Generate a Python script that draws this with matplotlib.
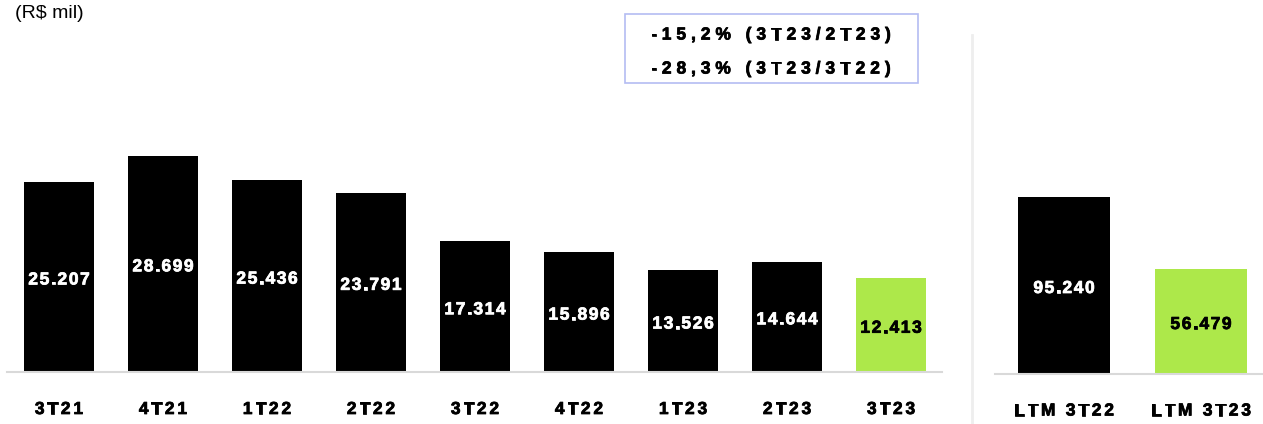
import matplotlib.pyplot as plt
import matplotlib.patheffects as pe
from matplotlib.font_manager import FontProperties
from matplotlib.transforms import offset_copy

# dados trimestrais (R$ mil)
trimestres = ['3T21', '4T21', '1T22', '2T22', '3T22', '4T22', '1T23', '2T23', '3T23']
valores = [25207, 28699, 25436, 23791, 17314, 15896, 13526, 14644, 12413]

# acumulado 12 meses
ltm_labels = ['LTM 3T22', 'LTM 3T23']
ltm_valores = [95240, 56479]

variacoes = ['-15,2% (3T23/2T23)', '-28,3% (3T23/3T22)']

PRETO = '#000000'
VERDE = '#ADE84A'
CINZA = '#d9d9d9'

W, H = 1263, 424
fig = plt.figure(figsize=(W / 100, H / 100), dpi=100)
plt.rcParams['font.family'] = ['Liberation Sans', 'DejaVu Sans']
renderer = fig.canvas.get_renderer()


def px_axes(x0, y0, x1, y1):
    # coordenadas em pixels (origem no topo)
    return fig.add_axes([x0 / W, 1 - y1 / H, (x1 - x0) / W, (y1 - y0) / H])


def fmt(v):
    return f'{v:,}'.replace(',', '.')


def texto_espacado(x, y, t, trans, track, dy=0, size=12.5, color='black', **kw):
    """Texto centrado em (x, y) com espaçamento extra entre letras (px)."""
    fp = FontProperties(family='Liberation Sans', weight='bold', size=size)
    larg = [renderer.get_text_width_height_descent(c, fp, ismath=False)[0] for c in t]
    total = sum(larg) + track * (len(t) - 1)
    pos = -total / 2
    for c, w in zip(t, larg):
        tr = offset_copy(trans, fig=fig, x=pos, y=dy, units='dots')
        fig.text(x, y, c, transform=tr, fontproperties=fp, ha='left',
                 va='center', color=color,
                 path_effects=[pe.withStroke(linewidth=0.55, foreground=color)], **kw)
        pos += w + track


def barras(ax, labels, vals, largura, y_rot):
    xs = list(range(len(vals)))
    cores = [PRETO] * (len(vals) - 1) + [VERDE]
    ax.bar(xs, vals, width=largura, color=cores, zorder=2)
    for x, v, c in zip(xs, vals, cores):
        texto_espacado(x, v / 2, fmt(v), ax.transData, 1.6, dy=-3,
                       color='white' if c == PRETO else 'black', zorder=5)
    # rótulos do eixo x
    trans_x = ax.get_xaxis_transform()
    for x, l in zip(xs, labels):
        texto_espacado(x, 0, l, trans_x, 2.8, dy=-y_rot)
    ax.set_xticks([])
    ax.set_yticks([])
    for s in ['top', 'right', 'left']:
        ax.spines[s].set_visible(False)
    ax.spines['bottom'].set_color(CINZA)
    ax.spines['bottom'].set_linewidth(1.5)
    ax.patch.set_alpha(0)


# painel trimestral
ax1 = px_axes(7, 30, 942, 372)
ax1.set_xlim(-0.5, 8.49)
ax1.set_ylim(0, 45360)
barras(ax1, trimestres, valores, 0.673, 37.5)

# painel LTM
ax2 = px_axes(995, 30, 1263, 374)
ax2.set_xlim(-0.504, 1.453)
ax2.set_ylim(0, 185100)
barras(ax2, ltm_labels, ltm_valores, 0.672, 37)

# linha separadora
fig.add_artist(plt.Line2D([972 / W, 972 / W], [0, 1 - 35 / H],
                          color='#eeeeee', lw=2))

fig.text(15 / W, 1 - 13 / H, '(R$ mil)', fontsize=14, va='center')

# caixa de variações
fig.add_artist(plt.Rectangle((625 / W, 1 - 83 / H), 293 / W, 69 / H,
                             fill=False, edgecolor='#b4bcf2', lw=1.2))
for i, t in enumerate(variacoes):
    texto_espacado(771 / W, 1 - (35 + 34 * i) / H, t, fig.transFigure, 4.9)

fig.savefig('out.png', dpi=100)
